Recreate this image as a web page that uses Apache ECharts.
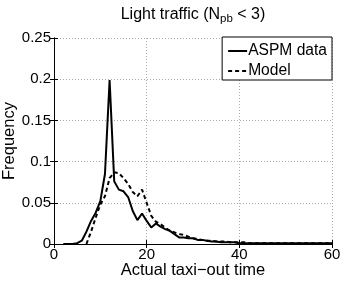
<!DOCTYPE html>
<html><head><meta charset="utf-8">
<script src="https://cdn.jsdelivr.net/npm/echarts@6/dist/echarts.min.js"></script>
<style>html,body{margin:0;padding:0;background:#fff}#c{width:346px;height:281px}</style>
</head><body><div id="c"></div>
<script>
var aspmX = [2,3,4,5,6,7,8,9,10,11,12,13,14,15,16,17,18,19,20,21,22,23,24,25,26,27,28,29,30,31,32,33,34,35,36,37,38,39,40,41,42,43,44,45,46,47,48,49,50,51,52,53,54,55,56,57,58,59,60];
var aspmY = [0,0,0,0.001,0.004,0.015,0.028,0.038,0.052,0.085,0.199,0.076,0.066,0.064,0.057,0.040,0.029,0.037,0.028,0.020,0.025,0.021,0.018,0.016,0.012,0.008,0.008,0.007,0.007,0.005,0.005,0.004,0.003,0.003,0.002,0.002,0.002,0.002,0.001,0.001,0.001,0.001,0.001,0.001,0.001,0.001,0.001,0.001,0.001,0.001,0.001,0.001,0.001,0.001,0.001,0.001,0.001,0.001,0.001];
var modelX = [7,8,9,10,11,12,13,14,15,16,17,18,19,20,21,22,23,24,25,26,27,28,29,30,31,32,33,34,35,36,37,38,39,40,41,42,43,44,45,46,47,48,49,50,51,52,53,54,55,56,57,58,59,60];
var modelY = [0,0.015,0.032,0.048,0.058,0.080,0.087,0.086,0.080,0.073,0.063,0.058,0.066,0.050,0.034,0.027,0.024,0.020,0.016,0.014,0.012,0.011,0.009,0.007,0.006,0.005,0.004,0.004,0.003,0.003,0.003,0.002,0.002,0.002,0.002,0.001,0.001,0.001,0.001,0.001,0.001,0.001,0.001,0.001,0.001,0.001,0.001,0.001,0.001,0.001,0.001,0.001,0.001,0.001];
var xTicks = [0,20,40,60];
var yTicks = [0,0.05,0.1,0.15,0.2,0.25];

function pairs(xs, ys){ return xs.map(function(x,i){return [x, ys[i]];}); }
var FONT = 'Liberation Sans';
var TICK = 15, LAB = 16.5;
var chart = echarts.init(document.getElementById('c'), null, {renderer:'canvas'});
var axisLine = {show:true, lineStyle:{color:'#000', width:1}};
chart.setOption({
  animation:false,
  title:{
    text:'Light traffic (N{sub|pb} < 3)',
    left:193, top:4, textAlign:'center', padding:0,
    textStyle:{fontFamily:FONT, fontSize:16, fontWeight:'normal', color:'#000',
      rich:{sub:{fontFamily:FONT, fontSize:11.5, color:'#000', padding:[9,0,0,0]}}}
  },
  legend:{
    right:14, top:37, orient:'vertical', itemGap:4, itemWidth:19, itemHeight:15,
    padding:[6,5,1,5], borderColor:'#000', borderWidth:1, backgroundColor:'#fff',
    itemStyle:{opacity:0},
    textStyle:{fontFamily:FONT, fontSize:15.6, lineHeight:15, color:'#000', padding:[0,0,0,-4]},
    data:['ASPM data','Model']
  },
  grid:{left:54, right:14, top:38, bottom:37, containLabel:false, outerBoundsMode:'none'},
  xAxis:[{
    type:'value', min:0, max:60, interval:20,
    name:'Actual taxi\u2212out time', nameLocation:'middle', nameGap:18, nameMoveOverlap:false,
    nameTextStyle:{fontFamily:FONT, fontSize:LAB, color:'#000'},
    axisLine:axisLine, axisTick:{show:true, inside:true, length:4, lineStyle:{color:'#000'}},
    axisLabel:{fontFamily:FONT, fontSize:TICK, color:'#000', margin:3},
    splitLine:{show:true, lineStyle:{color:'#aaa', type:[1,2], width:1}}
  },{
    type:'value', min:0, max:60, interval:20, position:'top',
    axisLine:axisLine, axisTick:{show:true, inside:true, length:4, lineStyle:{color:'#000'}},
    axisLabel:{show:false}, splitLine:{show:false}
  }],
  yAxis:[{
    type:'value', min:0, max:0.25, interval:0.05,
    name:'Frequency', nameLocation:'middle', nameGap:36, nameMoveOverlap:false,
    nameTextStyle:{fontFamily:FONT, fontSize:LAB, color:'#000'},
    axisLine:axisLine, axisTick:{show:true, inside:true, length:4, lineStyle:{color:'#000'}},
    axisLabel:{fontFamily:FONT, fontSize:TICK, color:'#000', margin:3,
      formatter:function(v){return String(+v.toFixed(2));}},
    splitLine:{show:true, lineStyle:{color:'#aaa', type:[1,2], width:1}}
  },{
    type:'value', min:0, max:0.25, interval:0.05, position:'right',
    axisLine:axisLine, axisTick:{show:true, inside:true, length:4, lineStyle:{color:'#000'}},
    axisLabel:{show:false}, splitLine:{show:false}
  }],
  series:[{
    name:'ASPM data', type:'line', data:pairs(aspmX, aspmY),
    symbol:'none', showSymbol:false, lineStyle:{color:'#000', width:2}, itemStyle:{color:'#000'}
  },{
    name:'Model', type:'line', data:pairs(modelX, modelY),
    symbol:'none', showSymbol:false, lineStyle:{color:'#000', width:2, type:[4,3]}, itemStyle:{color:'#000'}
  }]
});
</script></body></html>
